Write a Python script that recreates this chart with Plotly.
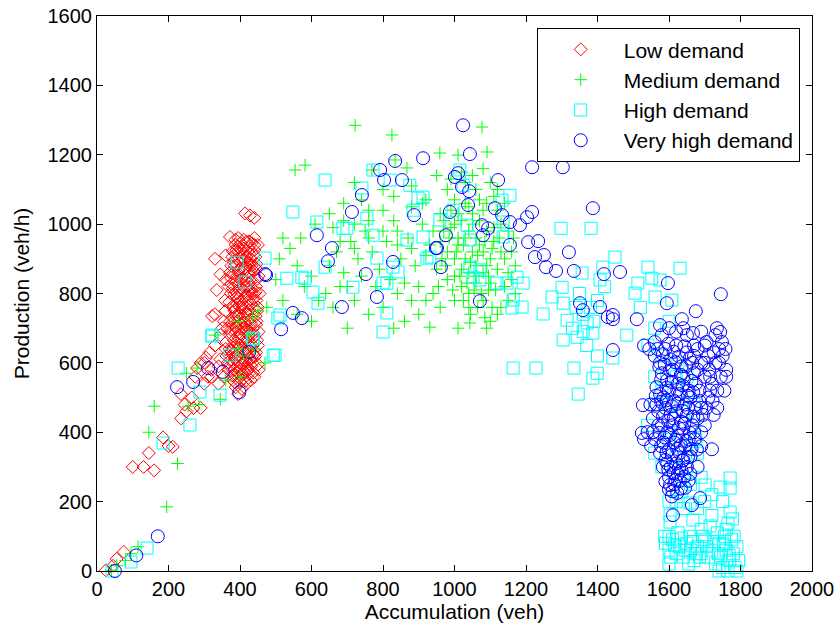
import plotly.graph_objects as go

# ---------------- data ----------------
low_pts = [
    (25, 2), (45, 15), (55, 35), (75, 55), (100, 300), (130, 300), (160, 290), (145, 340),
    (185, 385), (200, 360), (212, 358), (235, 440), (245, 480), (250, 460), (270, 470),
    (290, 470), (265, 500), (235, 510), (275, 560), (280, 585), (300, 600), (305, 615),
    (315, 630), (320, 560), (330, 650), (340, 540), (345, 680), (350, 700), (300, 540),
    (355, 720), (360, 750), (330, 740), (320, 580), (345, 610), (360, 640), (290, 600),
    (310, 560), (340, 590), (355, 560), (365, 600),
    (414, 1031), (428, 1025), (440, 1018), (372, 963), (330, 900), (335, 810), (322, 735),
    (345, 855), (360, 910), (395, 960), (410, 955), (425, 950), (440, 940), (450, 940),
    (380, 550), (395, 560), (410, 555), (425, 570), (440, 560), (385, 580), (400, 590),
    (420, 585), (435, 600), (450, 595), (375, 610), (390, 620), (405, 615), (420, 625),
    (445, 630), (380, 645), (398, 650), (415, 660), (430, 648), (448, 665), (372, 680),
    (388, 690), (402, 685), (418, 695), (436, 700), (452, 690), (378, 715), (394, 720),
    (410, 730), (428, 725), (444, 735), (385, 750), (400, 760), (415, 745), (432, 770),
    (370, 775), (390, 790), (405, 780), (420, 795), (440, 800), (380, 815), (395, 825),
    (410, 810), (425, 830), (445, 820), (375, 845), (392, 850), (408, 860), (422, 845),
    (438, 865), (385, 880), (400, 890), (415, 875), (430, 900), (446, 885), (378, 905),
    (394, 920), (410, 930), (426, 915), (440, 925), (388, 940), (402, 945), (418, 905),
    (432, 880), (398, 870), (412, 840), (428, 808), (392, 800), (406, 770), (420, 740),
    (390, 705), (404, 670), (416, 640), (430, 610), (398, 600), (412, 575), (384, 565),
    (440, 675), (450, 760), (452, 850), (365, 700), (368, 820), (372, 860), (382, 760),
    (396, 735), (410, 700), (424, 680), (436, 650), (400, 545), (418, 540), (430, 550),
    (388, 530), (405, 525), (395, 510), (370, 590), (378, 625), (362, 660), (445, 710),
    (455, 800), (446, 780),
    (377, 563), (392, 572), (407, 568), (422, 578), (437, 572), (382, 598), (397, 605),
    (412, 598), (427, 612), (442, 618), (376, 632), (391, 638), (406, 642), (421, 635),
    (436, 628), (383, 665), (396, 672), (409, 662), (423, 668), (438, 685), (375, 695),
    (389, 702), (403, 698), (417, 708), (431, 712), (446, 720), (382, 728), (398, 742),
    (412, 718), (426, 752), (440, 758), (378, 762), (392, 770), (407, 758), (421, 775),
    (437, 785), (384, 798), (399, 808), (414, 792), (430, 818), (444, 805), (376, 828),
    (390, 835), (405, 842), (419, 822), (434, 838), (448, 842), (381, 858), (396, 865),
    (411, 872), (425, 862), (440, 878), (383, 892), (398, 902), (413, 895), (428, 888),
    (443, 905), (380, 922), (395, 935), (410, 915), (424, 932), (438, 912), (387, 955),
    (403, 925), (418, 950), (433, 945), (400, 580), (415, 605), (385, 612), (432, 590),
    (395, 655), (425, 690), (402, 712), (388, 735), (415, 760), (433, 800), (395, 785),
    (410, 825), (425, 880), (405, 905), (370, 640), (372, 720), (374, 800), (376, 880),
    (448, 750), (450, 650), (452, 580), (446, 870), (385, 545), (415, 548), (390, 925),
    (440, 960), (360, 840), (358, 780), (362, 620), (368, 580),
]

medium_pts = [
    (40, 2), (55, 15), (80, 30), (115, 70), (95, 50), (195, 185), (160, 475), (145, 400),
    (225, 310), (255, 475), (285, 480), (280, 585), (250, 570), (330, 680), (345, 495),
    (395, 640), (400, 560), (425, 680), (470, 600), (435, 730), (360, 550), (410, 620),
    (440, 640), (395, 720), (450, 750),
    (722, 1285), (825, 1257), (1077, 1280), (1091, 1208), (959, 1205), (1010, 1199),
    (582, 1170), (554, 1156), (834, 1185), (867, 1162), (769, 1156), (500, 840), (510, 900),
    (520, 960), (475, 760), (540, 930), (560, 880), (580, 820), (600, 850), (620, 780),
    (560, 740), (600, 720), (640, 800), (660, 760), (700, 700), (520, 780), (570, 960),
    (610, 1000), (650, 1030), (690, 1060), (720, 1120), (740, 1070), (760, 1040), (800, 1100),
    (830, 1080), (880, 1110), (910, 1060), (950, 1140), (980, 1100), (1020, 1150), (1050, 1140),
    (1080, 1160), (1100, 1120), (1120, 1100), (1140, 1060), (1150, 980), (1160, 920),
    (1150, 860), (1170, 800), (1130, 760), (1100, 720), (1090, 700), (1043, 715), (1010, 700),
    (931, 703), (900, 740), (860, 720), (830, 700), (800, 760), (760, 740), (720, 780), (680, 820),
    (650, 880), (670, 920), (690, 860), (710, 950), (730, 900), (750, 980), (770, 920),
    (790, 870), (810, 950), (830, 1010), (850, 900), (870, 960), (890, 880), (910, 1000),
    (930, 940), (950, 870), (970, 980), (990, 1040), (1010, 960), (1030, 900), (1050, 1000),
    (1070, 940), (1090, 880), (1110, 990), (1130, 920), (700, 820), (740, 850), (780, 820),
    (820, 840), (860, 830), (900, 820), (940, 800), (980, 840), (1020, 820), (1060, 850),
    (1100, 830), (1140, 820), (1000, 780), (1040, 760), (1080, 780), (960, 760), (920, 780),
    (880, 780), (840, 800), (660, 990), (690, 1010), (720, 1000), (760, 1010), (800, 1040),
    (840, 980), (880, 1050), (920, 1070), (960, 1030), (1000, 1070), (1040, 1050), (1080, 1040),
    (1120, 1040), (1060, 1100), (1030, 1120), (990, 1130), (1000, 1000), (1020, 1010),
    (1040, 980), (1060, 960), (1080, 920), (1100, 900), (1060, 880), (1040, 860), (1020, 870),
    (1000, 900), (980, 920), (960, 950), (940, 980), (920, 910), (880, 930), (840, 940),
    (800, 980), (760, 960), (720, 930), (680, 950), (1010, 940), (1030, 960), (1070, 1010),
    (1090, 980), (1110, 950), (1050, 920), (1000, 850), (1080, 860), (1120, 870), (1140, 900),
    (955, 820), (975, 880), (995, 810), (1015, 850), (1035, 830), (1055, 810), (1075, 800),
    (1095, 850), (1115, 810), (965, 900), (985, 960), (1005, 920), (1025, 940), (1045, 890),
    (1065, 910), (1085, 950), (1105, 930), (1125, 960), (970, 1010), (990, 990), (1010, 1030),
    (1030, 1060), (1050, 1030), (1070, 1070), (1090, 1060), (1110, 1080), (1130, 1000),
    (1025, 780), (1065, 760), (1105, 760), (1045, 740), (1085, 730), (1120, 740), (1150, 780),
    (1160, 840), (1170, 880), (1165, 960), (1060, 830), (1040, 800), (1095, 810),
]

high_pts = [
    (42, 0), (95, 26), (140, 66), (185, 369), (260, 421), (227, 585), (288, 516), (344, 507),
    (321, 677), (372, 622), (437, 669), (493, 622), (392, 890), (414, 833), (470, 902),
    (531, 844), (498, 622), (322, 680),
    (548, 1035), (638, 1127), (615, 1006), (688, 988), (741, 1104), (772, 1156), (820, 1127),
    (875, 1112), (755, 1017), (772, 968), (783, 902), (828, 876), (638, 876), (573, 847),
    (604, 804), (618, 772), (716, 818), (811, 830), (512, 738), (898, 1075), (884, 1040),
    (699, 988), (867, 954), (923, 902), (842, 862), (582, 844), (800, 830), (811, 744),
    (506, 729), (800, 689), (436, 671),
    (912, 1078), (1015, 1156), (1024, 1112), (1133, 1069), (1155, 1083), (996, 1040),
    (959, 1012), (1035, 997), (1136, 1006), (912, 963), (1043, 954), (1136, 963), (931, 905),
    (1043, 876), (1071, 868), (1071, 839), (1119, 830), (1052, 847),
    (1298, 988), (1382, 988), (1175, 847), (1192, 830), (1147, 830), (1164, 781), (1161, 758),
    (1189, 761), (1248, 741), (1301, 818), (1273, 790), (1304, 772), (1357, 859), (1407, 839),
    (1449, 905), (1415, 876), (1315, 723), (1371, 715), (1343, 674), (1387, 686), (1304, 666),
    (1164, 585), (1228, 585), (1334, 585), (1346, 510), (1387, 556), (1399, 570), (1330, 700),
    (1360, 740), (1380, 760), (1350, 800), (1420, 820), (1390, 720), (1360, 690), (1340, 760),
    (1400, 780), (1370, 650), (1400, 620),
    (1541, 876), (1631, 873), (1513, 830), (1552, 844), (1575, 839), (1505, 801), (1561, 790),
    (1608, 781), (1482, 680), (1541, 651), (1443, 614), (1520, 760), (1560, 700), (1600, 720),
    (1580, 620), (1620, 560), (1650, 520), (1560, 480), (1640, 460), (1670, 420), (1600, 380),
    (1680, 340), (1650, 300), (1690, 270), (1600, 400), (1540, 420), (1620, 330), (1660, 360),
    (1560, 560), (1580, 520), (1600, 480), (1625, 600), (1650, 560), (1670, 480), (1675, 380),
    (1660, 250), (1640, 260), (1600, 200), (1620, 200), (1580, 300), (1560, 340),
    (1701, 248), (1743, 242), (1771, 268), (1771, 239), (1636, 228), (1659, 196), (1603, 161),
    (1603, 141), (1771, 170), (1765, 138), (1667, 147), (1700, 200), (1720, 220), (1680, 180),
    (1750, 200), (1640, 180), (1690, 120), (1720, 160), (1660, 100),
    (1590, 80), (1600, 60), (1610, 90), (1620, 50), (1630, 70), (1640, 40), (1650, 80),
    (1660, 60), (1670, 30), (1680, 70), (1690, 50), (1700, 90), (1710, 40), (1720, 60),
    (1730, 20), (1740, 80), (1745, 40), (1750, 10), (1760, 60), (1765, 0), (1770, 30),
    (1775, 90), (1780, 50), (1785, 10), (1790, 70), (1755, 100), (1735, 110), (1715, 130),
    (1695, 100), (1625, 110), (1605, 40), (1655, 20), (1760, 120), (1778, 150), (1790, 0),
    (1740, 0), (1600, 20), (1615, 75), (1635, 95), (1645, 60), (1665, 85), (1675, 50),
    (1685, 40), (1705, 70), (1725, 85), (1738, 50), (1752, 75), (1768, 45), (1782, 100),
    (1795, 30), (1588, 100), (1600, 100),
]

very_high_pts = [
    (50, 0), (110, 45), (170, 100), (224, 530), (269, 545), (311, 585), (352, 574),
    (398, 515), (426, 631), (473, 853), (515, 697), (470, 856), (548, 744), (573, 729),
    (685, 761), (615, 968), (657, 931), (646, 893), (713, 1035), (741, 1084), (792, 1156),
    (803, 1127), (853, 1127), (834, 1182), (912, 1190), (887, 1026), (828, 891), (752, 856),
    (783, 790), (951, 931),
    (1024, 1285), (1043, 1202), (1217, 1164), (1303, 1164), (1010, 1147), (1001, 1136),
    (1122, 1127), (1021, 1107), (1041, 1095), (1038, 1055), (987, 1035), (1113, 1046),
    (1133, 1026), (1155, 1006), (1183, 997), (1203, 1020), (1217, 1035), (1387, 1046),
    (1077, 997), (1094, 988), (1080, 968), (976, 968), (948, 931), (1155, 940), (1206, 948),
    (1234, 951), (1225, 905), (1250, 911), (1320, 919), (1256, 876), (1284, 865), (1334, 865),
    (1418, 856), (962, 876), (1071, 778), (1351, 772), (1359, 752), (1407, 761), (1429, 732),
    (1443, 726),
    (1463, 862), (1745, 798), (1597, 830), (1594, 772), (1675, 749), (1510, 726), (1636, 726),
    (1734, 700), (1743, 689), (1667, 686), (1575, 709), (1443, 738), (1443, 637), (1530, 650),
    (1560, 620), (1575, 600), (1590, 640), (1605, 610), (1620, 650), (1635, 590), (1650, 630),
    (1665, 600), (1580, 570), (1595, 550), (1610, 580), (1625, 540), (1640, 560), (1655, 520),
    (1670, 570), (1565, 530), (1585, 500), (1600, 520), (1615, 490), (1630, 510), (1645, 480),
    (1660, 500), (1675, 470), (1570, 460), (1590, 470), (1605, 450), (1620, 460), (1635, 430),
    (1650, 450), (1665, 420), (1580, 420), (1595, 400), (1610, 420), (1625, 390), (1640, 410),
    (1655, 380), (1670, 400), (1585, 370), (1600, 350), (1615, 370), (1630, 340), (1645, 360),
    (1660, 330), (1590, 320), (1605, 300), (1620, 310), (1635, 290), (1650, 300), (1600, 270),
    (1615, 250), (1630, 260), (1645, 240), (1610, 230), (1625, 280), (1575, 340), (1560, 380),
    (1555, 440), (1548, 480), (1540, 400), (1530, 380), (1527, 478), (1524, 398), (1611, 161),
    (1687, 210), (1664, 190), (1720, 351), (1690, 360), (1680, 300), (1700, 420), (1690, 470),
    (1710, 500), (1720, 540), (1700, 560), (1730, 600), (1740, 640), (1750, 620), (1760, 580),
    (1745, 560), (1755, 520), (1735, 470), (1725, 450), (1710, 620), (1730, 680), (1700, 650),
    (1680, 640), (1690, 600), (1685, 520), (1675, 540), (1695, 450), (1640, 700), (1620, 690),
    (1600, 700), (1580, 680), (1560, 660), (1545, 640), (1650, 680), (1670, 650),
    (1568, 640), (1583, 625), (1598, 655), (1613, 632), (1628, 618), (1643, 648), (1658, 612),
    (1573, 588), (1588, 595), (1603, 578), (1618, 602), (1633, 565), (1648, 590), (1663, 548),
    (1578, 552), (1593, 528), (1608, 545), (1623, 522), (1638, 535), (1653, 505), (1668, 515),
    (1563, 505), (1578, 488), (1593, 492), (1608, 475), (1623, 482), (1638, 462), (1653, 470),
    (1668, 445), (1583, 445), (1598, 432), (1613, 440), (1628, 412), (1643, 425), (1658, 398),
    (1573, 398), (1588, 385), (1603, 392), (1618, 378), (1633, 362), (1648, 375), (1663, 352),
    (1578, 360), (1593, 342), (1608, 335), (1623, 352), (1638, 318), (1653, 328), (1583, 300),
    (1598, 292), (1613, 282), (1628, 298), (1643, 272), (1603, 248), (1618, 262), (1633, 238),
    (1608, 215), (1623, 225), (1595, 310), (1570, 420), (1555, 400), (1550, 360), (1565, 480),
    (1575, 510), (1640, 320), (1660, 280), (1655, 260), (1600, 235), (1590, 258), (1670, 620),
    (1680, 580), (1685, 490), (1680, 440), (1672, 380), (1678, 350), (1690, 400), (1705, 470),
    (1715, 520), (1712, 580), (1725, 630), (1740, 600), (1748, 660), (1760, 560), (1758, 640),
    (1735, 520), (1722, 490), (1700, 600), (1705, 660), (1690, 690), (1715, 560),
]

series_names = ["Low demand", "Medium demand", "High demand", "Very high demand"]
x_ticks = [0, 200, 400, 600, 800, 1000, 1200, 1400, 1600, 1800, 2000]
y_ticks = [0, 200, 400, 600, 800, 1000, 1200, 1400, 1600]

# ---------------- styling ----------------
styles = [
    dict(symbol="diamond-open", color="#ff0000", size=10),
    dict(symbol="cross-thin-open", color="#00ff00", size=9),
    dict(symbol="square-open", color="#00ffff", size=12),
    dict(symbol="circle-open", color="#0000ff", size=13),
]

FONT = "Arial, 'Liberation Sans', Helvetica, sans-serif"
FS = 21
TFS = 20

fig = go.Figure()
for name, pts, st in zip(series_names, [low_pts, medium_pts, high_pts, very_high_pts], styles):
    xs = [p[0] for p in pts]
    ys = [p[1] for p in pts]
    fig.add_trace(go.Scatter(
        x=xs, y=ys, mode="markers", name=name, cliponaxis=False,
        marker=dict(symbol=st["symbol"], size=st["size"], color=st["color"],
                    line=dict(color=st["color"], width=1)),
    ))

axis_common = dict(
    showline=True, linecolor="black", linewidth=1, mirror="allticks",
    ticks="inside", ticklen=6, tickcolor="black", tickwidth=1,
    showgrid=False, zeroline=False, automargin=False, ticklabeloverflow="allow",
    tickfont=dict(family=FONT, size=TFS, color="black"),
)

fig.update_layout(
    width=835, height=630,
    margin=dict(l=97, r=23, t=16, b=59, autoexpand=False),
    paper_bgcolor="white", plot_bgcolor="white",
    font=dict(family=FONT, size=FS, color="black"),
    xaxis=dict(range=[0, 2000], tickvals=x_ticks, ticktext=[str(v) for v in x_ticks],
               title=dict(text="Accumulation (veh)", standoff=4,
                          font=dict(family=FONT, size=FS)), **axis_common),
    yaxis=dict(range=[0, 1600], tickvals=y_ticks, ticktext=[str(v) for v in y_ticks],
               title=dict(text="Production (veh/h)", standoff=12,
                          font=dict(family=FONT, size=FS)), **axis_common),
    legend=dict(x=0.615, y=0.978, xanchor="left", yanchor="top",
                bgcolor="white", bordercolor="black", borderwidth=1,
                font=dict(family=FONT, size=FS), itemwidth=76,
                tracegroupgap=0, itemsizing="trace"),
    showlegend=True,
)

# remove the default page margin so the figure sits at the window's top-left corner
fig.write_html("out.html",
               config={"displayModeBar": False},
               post_script="document.body.style.margin='0';document.body.style.padding='0';")
